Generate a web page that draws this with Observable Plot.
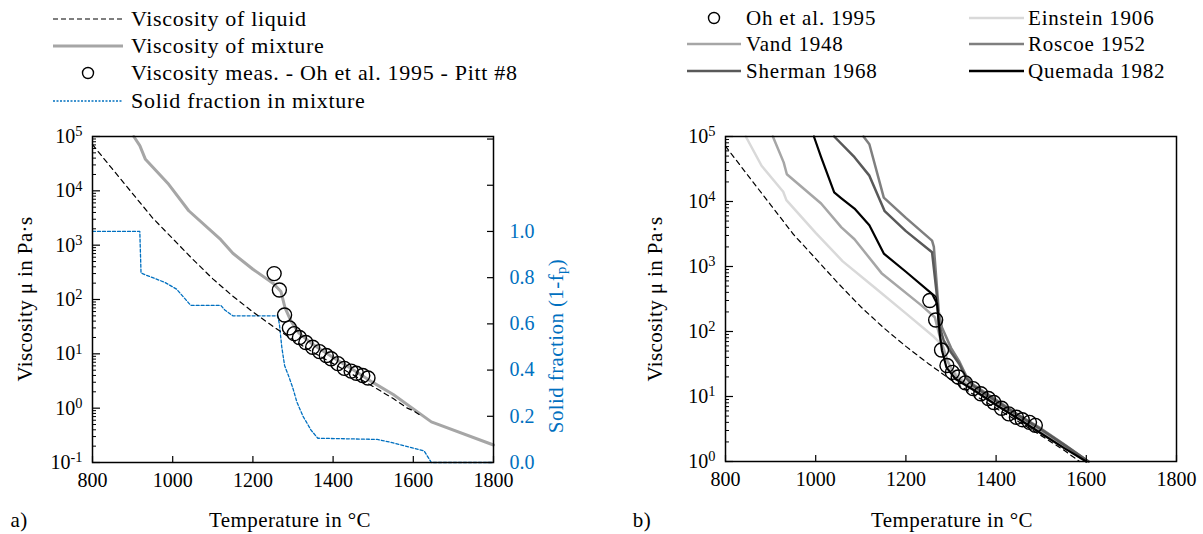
<!DOCTYPE html>
<html>
<head>
<meta charset="utf-8">
<script src="https://cdn.jsdelivr.net/npm/d3@7"></script>
<script src="https://cdn.jsdelivr.net/npm/@observablehq/plot@0.6"></script>
<style>
  body { margin: 0; background: #fff; }
  #wrap { position: relative; width: 1203px; height: 534px; overflow: hidden; color: #000; }
  #wrap, #wrap div, #wrap span, #wrap sub, #wrap svg, #wrap svg text, #wrap svg tspan { font-family: "Liberation Serif", "DejaVu Serif", serif !important; }
  .leg { position: absolute; display: flex; align-items: center; height: 26px; font-size: 21px; letter-spacing: 0.8px; white-space: nowrap; transform: translateY(-50%); }
  .leg.big { font-size: 22px; letter-spacing: 0.7px; }
  .leg svg { flex: none; }
  .ttl { position: absolute; font-size: 21px; letter-spacing: 0.4px; white-space: nowrap; transform: translate(-50%, -50%); }
  .rot { transform: translate(-50%, -50%) rotate(-90deg); }
  .plot { position: absolute; top: 120px; }
  sub { font-size: 70%; vertical-align: -0.25em; }
</style>
</head>
<body>
<div id="wrap"></div>
<script>
// ---------------- data ----------------
const xTicks = [800, 1000, 1200, 1400, 1600, 1800];
const yTicksLeft = [0.1, 1, 10, 100, 1000, 10000, 100000];
const yTicksRight = [1, 10, 100, 1000, 10000, 100000];
const fracTicks = [0, 0.2, 0.4, 0.6, 0.8, 1.0, 1.2, 1.4];
const fracTickLabels = ["0.0", "0.2", "0.4", "0.6", "0.8", "1.0", "", ""];
const FRAC_TOP = 1.411;

// viscosity of liquid (Pa·s)
const liquidT = [800, 850, 900, 950, 1000, 1050, 1100, 1150, 1200, 1250, 1300, 1350, 1400, 1450, 1500, 1550, 1585, 1600, 1620];
const liquidV = [71000, 25000, 8900, 3160, 1320, 550, 240, 115, 59, 32, 18, 10.7, 6.6, 4.1, 2.5, 1.5, 1.0, 0.9, 0.72];

// viscosity of mixture (Pa·s)
const mixT = [903, 918, 932, 990, 1040, 1120, 1150, 1200, 1250, 1270, 1280, 1295, 1315, 1350, 1400, 1450, 1500, 1550, 1645, 1800];
const mixV = [100000, 68000, 38000, 13200, 4300, 1260, 710, 360, 200, 140, 71, 40, 24, 14.8, 8.6, 5.1, 2.95, 1.78, 0.56, 0.21];

// measurements Oh et al. 1995 - Pitt #8
const ohT = [1253, 1266, 1279, 1291, 1303, 1316, 1332, 1349, 1366, 1383, 1395, 1412, 1428, 1445, 1458, 1474, 1487];
const ohV = [300, 150, 52, 30, 23.5, 20, 16.2, 13.2, 11, 9.3, 8.1, 6.6, 5.4, 4.8, 4.4, 4.0, 3.6];

// solid fraction in mixture (1 - fp)
const fracT = [800, 918, 921, 935, 980, 1010, 1040, 1045, 1120, 1130, 1150, 1262, 1266, 1272, 1279, 1290, 1300, 1310, 1325, 1345, 1362, 1510, 1550, 1627, 1645, 1800];
const fracV = [1.0, 1.0, 0.82, 0.81, 0.78, 0.75, 0.69, 0.68, 0.68, 0.66, 0.635, 0.635, 0.60, 0.50, 0.42, 0.37, 0.32, 0.26, 0.20, 0.14, 0.105, 0.10, 0.085, 0.05, 0.0, 0.0];

// panel b) models
const einsteinT = [845, 880, 928, 935, 1000, 1060, 1130, 1200, 1262, 1282, 1300, 1350, 1400, 1450, 1500, 1550, 1600];
const einsteinV = [100000, 35500, 14100, 10500, 3300, 1200, 480, 190, 83, 60, 26, 13.2, 7.6, 4.6, 2.75, 1.66, 1.0];
const vandT = [905, 929, 936, 1012, 1057, 1086, 1146, 1235, 1264, 1276, 1292, 1312, 1350, 1400, 1450, 1500, 1550, 1600];
const vandV = [100000, 40000, 26300, 9300, 4000, 2630, 790, 250, 166, 79, 35, 20, 13.2, 7.9, 4.8, 2.9, 1.74, 1.0];
const roscoeT = [1106, 1119, 1151, 1200, 1258, 1262, 1273, 1280, 1300, 1318, 1335, 1350, 1400, 1450, 1500, 1550, 1605];
const roscoeV = [100000, 76000, 11500, 5600, 2500, 2000, 200, 115, 56, 35, 20, 15.1, 8.9, 5.2, 3.2, 1.86, 1.0];
const shermanT = [1041, 1086, 1119, 1153, 1200, 1258, 1268, 1273, 1284, 1300, 1318, 1335, 1350, 1400, 1450, 1500, 1550, 1605];
const shermanV = [100000, 48000, 25000, 7100, 3500, 1660, 400, 132, 72, 48, 32, 18.6, 14.5, 8.5, 5.1, 3.1, 1.82, 1.0];
const quemadaT = [996, 1012, 1041, 1057, 1086, 1119, 1151, 1200, 1258, 1269, 1275, 1280, 1290, 1310, 1350, 1400, 1450, 1500, 1550, 1600];
const quemadaV = [100000, 48000, 13800, 11200, 7800, 4300, 1580, 830, 380, 270, 93, 51, 28, 18.6, 12.6, 7.4, 4.5, 2.7, 1.62, 1.0];

// ---------------- styles ----------------
const FONT = '"Liberation Serif", "DejaVu Serif", serif';
const BLUE = "#0070c0";
const C = {mix: "#a6a6a6", einstein: "#d9d9d9", vand: "#a6a6a6", roscoe: "#7f7f7f", sherman: "#595959", quemada: "#000000"};

const rows = (T, V) => T.map((t, i) => ({T: t, v: V[i]}));
const minorTicks = (lo, hi) => { const o = []; for (let e = lo; e < hi; e++) for (let m = 2; m <= 9; m++) o.push(m * Math.pow(10, e)); return o; };
const supFmt = d => "10^" + Math.round(Math.log10(d));
const toFracY = f => Math.pow(10, -1 + 6 * f / FRAC_TOP);
const fracRowsTicks = fracTicks.map((f, i) => ({f, label: fracTickLabels[i]}));

function fixSup(svg) {
  svg.querySelectorAll("text").forEach(t => {
    const m = /^10\^(-?\d+)$/.exec(t.textContent.trim());
    if (!m) return;
    t.textContent = "";
    const ns = "http://www.w3.org/2000/svg";
    const a = document.createElementNS(ns, "tspan"); a.textContent = "10";
    const b = document.createElementNS(ns, "tspan"); b.textContent = m[1];
    b.setAttribute("dy", "-0.45em"); b.setAttribute("font-size", "72%");
    t.appendChild(a); t.appendChild(b);
  });
}

// ---------------- panel a ----------------
const W1 = 600, H = 414, mL1 = 92, mR1 = 107, mT = 16, mB1 = 72;
const pw1 = W1 - mL1 - mR1, ph1 = H - mT - mB1;
const plotA = Plot.plot({
  width: W1, height: H, marginLeft: mL1, marginRight: mR1, marginTop: mT, marginBottom: mB1,
  style: {fontFamily: FONT, fontSize: "20px", color: "#000", background: "none", overflow: "visible"},
  x: {domain: [800, 1800]},
  y: {type: "log", domain: [0.1, 100000]},
  marks: [
    Plot.line(rows(fracT, fracV), {x: "T", y: d => toFracY(d.v), stroke: BLUE, strokeWidth: 1.3, strokeDasharray: "3,2"}),
    Plot.line(rows(mixT, mixV), {x: "T", y: "v", stroke: C.mix, strokeWidth: 3}),
    Plot.line(rows(liquidT, liquidV), {x: "T", y: "v", stroke: "#000", strokeWidth: 1.2, strokeDasharray: "5,4"}),
    Plot.dot(rows(ohT, ohV), {x: "T", y: "v", r: 7, stroke: "#000", strokeWidth: 1.4, fill: "none"}),
    Plot.tickY(minorTicks(-1, 5), {y: d => d, insetRight: pw1 - 4, stroke: "#000", strokeWidth: 1}),
    Plot.tickY(yTicksLeft, {y: d => d, insetRight: pw1 - 8, stroke: "#000", strokeWidth: 1.2}),
    Plot.tickX(xTicks, {x: d => d, insetTop: ph1 - 6, stroke: "#000", strokeWidth: 1.2}),
    Plot.tickY(fracTicks, {y: f => toFracY(f), insetLeft: pw1 - 6, stroke: "#000", strokeWidth: 1.2}),
    Plot.axisX(xTicks, {tickSize: 0, tickPadding: 10, label: null, fontSize: 20, fontFamily: FONT, tickFormat: d => String(d)}),
    Plot.axisY(yTicksLeft, {tickSize: 0, tickPadding: 10, label: null, fontSize: 20, fontFamily: FONT, tickFormat: supFmt}),
    Plot.text(fracRowsTicks, {y: d => toFracY(d.f), text: "label", frameAnchor: "right", dx: 16, textAnchor: "start", fill: BLUE, fontSize: 20, fontFamily: FONT}),
    Plot.frame({stroke: "#000", strokeWidth: 1.5})
  ]
});
fixSup(plotA);

// ---------------- panel b ----------------
const W2 = 603, mL2 = 125, mR2 = 27, mB2 = 73;
const pw2 = W2 - mL2 - mR2, ph2 = H - mT - mB2;
const plotB = Plot.plot({
  width: W2, height: H, marginLeft: mL2, marginRight: mR2, marginTop: mT, marginBottom: mB2,
  style: {fontFamily: FONT, fontSize: "20px", color: "#000", background: "none", overflow: "visible"},
  x: {domain: [800, 1800]},
  y: {type: "log", domain: [1, 100000]},
  marks: [
    Plot.line(rows(einsteinT, einsteinV), {x: "T", y: "v", stroke: C.einstein, strokeWidth: 2.5}),
    Plot.line(rows(vandT, vandV), {x: "T", y: "v", stroke: C.vand, strokeWidth: 2.5}),
    Plot.line(rows(roscoeT, roscoeV), {x: "T", y: "v", stroke: C.roscoe, strokeWidth: 2.5}),
    Plot.line(rows(shermanT, shermanV), {x: "T", y: "v", stroke: C.sherman, strokeWidth: 2.5}),
    Plot.line(rows(quemadaT, quemadaV), {x: "T", y: "v", stroke: C.quemada, strokeWidth: 2.2}),
    Plot.line(rows(liquidT, liquidV).filter(d => d.v >= 1), {x: "T", y: "v", stroke: "#000", strokeWidth: 1.2, strokeDasharray: "5,4"}),
    Plot.dot(rows(ohT, ohV), {x: "T", y: "v", r: 7, stroke: "#000", strokeWidth: 1.4, fill: "none"}),
    Plot.tickY(minorTicks(0, 5), {y: d => d, insetRight: pw2 - 4, stroke: "#000", strokeWidth: 1}),
    Plot.tickY(yTicksRight, {y: d => d, insetRight: pw2 - 8, stroke: "#000", strokeWidth: 1.2}),
    Plot.tickX(xTicks, {x: d => d, insetTop: ph2 - 6, stroke: "#000", strokeWidth: 1.2}),
    Plot.axisX(xTicks, {tickSize: 0, tickPadding: 10, label: null, fontSize: 20, fontFamily: FONT, tickFormat: d => String(d)}),
    Plot.axisY(yTicksRight, {tickSize: 0, tickPadding: 10, label: null, fontSize: 20, fontFamily: FONT, tickFormat: supFmt}),
    Plot.frame({stroke: "#000", strokeWidth: 1.5})
  ]
});
fixSup(plotB);

// ---------------- layout ----------------
const wrap = document.getElementById("wrap");
const pa = document.createElement("div"); pa.className = "plot"; pa.style.left = "0px"; pa.appendChild(plotA); wrap.appendChild(pa);
const pb = document.createElement("div"); pb.className = "plot"; pb.style.left = "600px"; pb.appendChild(plotB); wrap.appendChild(pb);

function swatch(kind, w, color, sw, dash) {
  const ns = "http://www.w3.org/2000/svg";
  const s = document.createElementNS(ns, "svg");
  s.setAttribute("width", w); s.setAttribute("height", 20);
  if (kind === "circle") {
    const c = document.createElementNS(ns, "circle");
    c.setAttribute("cx", w / 2); c.setAttribute("cy", 10); c.setAttribute("r", 5.5);
    c.setAttribute("fill", "none"); c.setAttribute("stroke", "#000"); c.setAttribute("stroke-width", 1.4);
    s.appendChild(c);
  } else {
    const l = document.createElementNS(ns, "line");
    l.setAttribute("x1", 0); l.setAttribute("x2", w); l.setAttribute("y1", 10); l.setAttribute("y2", 10);
    l.setAttribute("stroke", color); l.setAttribute("stroke-width", sw);
    if (dash) l.setAttribute("stroke-dasharray", dash);
    s.appendChild(l);
  }
  return s;
}
function legendItem(x, y, sw, gap, html, big) {
  const d = document.createElement("div");
  d.className = "leg" + (big ? " big" : ""); d.style.left = x + "px"; d.style.top = y + "px";
  d.appendChild(sw);
  const t = document.createElement("span"); t.style.marginLeft = gap + "px"; t.innerHTML = html;
  d.appendChild(t); wrap.appendChild(d);
}
// legend a
legendItem(53, 19, swatch("line", 70, "#000", 1.2, "5,3"), 8, "Viscosity of liquid", true);
legendItem(53, 46, swatch("line", 70, C.mix, 3), 8, "Viscosity of mixture", true);
legendItem(53, 73, swatch("circle", 70), 8, "Viscosity meas. - Oh et al. 1995 - Pitt #8", true);
legendItem(53, 101, swatch("line", 70, BLUE, 1.3, "2,1.5"), 8, "Solid fraction in mixture", true);
// legend b
legendItem(687, 18, swatch("circle", 54), 5, "Oh et al. 1995");
legendItem(687, 44, swatch("line", 54, C.vand, 2.5), 5, "Vand 1948");
legendItem(687, 71, swatch("line", 54, C.sherman, 2.5), 5, "Sherman 1968");
legendItem(969, 18, swatch("line", 55, C.einstein, 2.5), 4, "Einstein 1906");
legendItem(969, 44, swatch("line", 55, C.roscoe, 2.5), 4, "Roscoe 1952");
legendItem(969, 71, swatch("line", 55, C.quemada, 2.5), 4, "Quemada 1982");

// axis titles
function title(x, y, html, cls, color) {
  const d = document.createElement("div");
  d.className = "ttl" + (cls ? " " + cls : "");
  d.style.left = x + "px"; d.style.top = y + "px"; d.innerHTML = html;
  if (color) d.style.color = color;
  wrap.appendChild(d);
}
title(290, 520, "Temperature in °C");
title(952, 520, "Temperature in °C");
title(19, 520, "a)");
title(642, 520, "b)");
title(25, 299, "Viscosity μ in Pa·s", "rot");
title(655, 299, "Viscosity μ in Pa·s", "rot");
title(557, 346, "Solid fraction (1-f<sub>p</sub>)", "rot", BLUE);
</script>
</body>
</html>
